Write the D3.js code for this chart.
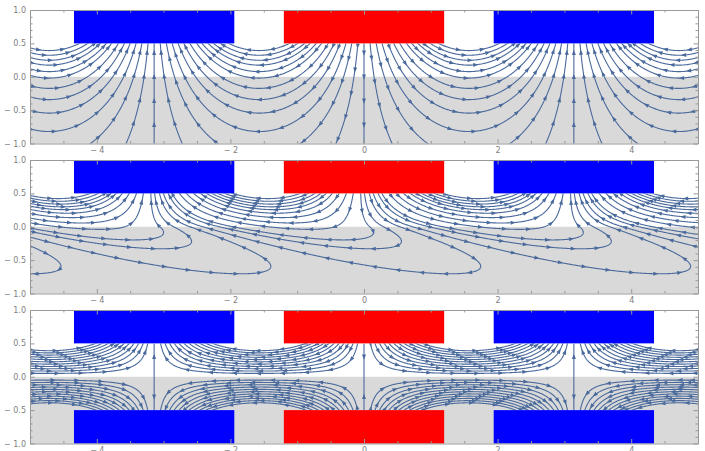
<!DOCTYPE html>
<html>
<head>
<meta charset="utf-8">
<script src="https://cdn.jsdelivr.net/npm/d3@7"></script>
<style>
  body { margin: 0; background: #fff; }
  text { font-family: "DejaVu Sans", sans-serif; }
</style>
</head>
<body>
<svg id="chart" width="705" height="451"></svg>
<script>
// magnet blocks (centres, colours), rows in y
const magnetCenters = [-3.1416, 0, 3.1416];
const magnetColors = ['#0000ff', '#ff0000', '#0000ff'];
const magnetHalfWidth = 1.2;
const topRow = [0.5, 1.0];
const bottomRow = [-1.0, -0.5];

// stream-function levels (one streamline per level)
const levels1 = [-1.48, -1.38, -1.28, -1.19, -1.08, -0.98, -0.84, -0.71, -0.58, -0.44, -0.30, -0.15, 0,
                  0.15, 0.30, 0.44, 0.58, 0.71, 0.84, 0.98, 1.08, 1.19, 1.28, 1.38, 1.48];
const levels2 = [-1.076, -0.998, -0.920, -0.845, -0.770, -0.679, -0.571, -0.449, -0.328, -0.194, -0.125, -0.036,
                  0.036, 0.125, 0.194, 0.328, 0.449, 0.571, 0.679, 0.770, 0.845, 0.920, 0.998, 1.076];
const levels3 = [-0.80, -0.73, -0.66, -0.59, -0.52, -0.45, -0.38, -0.31, -0.24, -0.17, -0.10,
                  0.10, 0.17, 0.24, 0.31, 0.38, 0.45, 0.52, 0.59, 0.66, 0.73, 0.80];
const conductorSpeed = 21;   // panel 2: moving conductor

const xTicks = [-4, -2, 0, 2, 4];
const xMinor = [-5, -4.5, -3.5, -3, -2.5, -1.5, -1, -0.5, 0.5, 1, 1.5, 2.5, 3, 3.5, 4.5, 5];
const yTicks = [-1, -0.5, 0, 0.5, 1];
const yMinor = [-0.9, -0.8, -0.7, -0.6, -0.4, -0.3, -0.2, -0.1, 0.1, 0.2, 0.3, 0.4, 0.6, 0.7, 0.8, 0.9];

const panelTops = [10, 160, 310];
const plotH = 133.5;
const lineColor = '#4a6a9c';

const svg = d3.select('#chart');
const x = d3.scaleLinear().domain([-5, 5]).range([30, 698]);

// --- complex helpers for the conductor field
const cx = (re, im) => ({ re, im });
const cadd = (a, b) => cx(a.re + b.re, a.im + b.im);
const csub = (a, b) => cx(a.re - b.re, a.im - b.im);
const cmul = (a, b) => cx(a.re * b.re - a.im * b.im, a.re * b.im + a.im * b.re);
const cdiv = (a, b) => { const d = b.re * b.re + b.im * b.im; return cx((a.re * b.re + a.im * b.im) / d, (a.im * b.re - a.re * b.im) / d); };
const csqrt = (a) => { const m = Math.sqrt(Math.hypot(a.re, a.im)), t = Math.atan2(a.im, a.re) / 2; return cx(m * Math.cos(t), m * Math.sin(t)); };

const gam = csqrt(cx(1, conductorSpeed));
const refl = cdiv(csub(cx(1, 0), gam), cadd(cx(1, 0), gam));
const trans = cdiv(cx(2, 0), cadd(cx(1, 0), gam));

const psiFns = [
  (px, py) => Math.exp(py) * Math.sin(px),
  (px, py) => {
    let fr, fi;
    if (py >= 0) {
      fr = Math.exp(py) + refl.re * Math.exp(-py);
      fi = refl.im * Math.exp(-py);
    } else {
      const e = Math.exp(gam.re * py);
      const c = cmul(trans, cx(e * Math.cos(gam.im * py), e * Math.sin(gam.im * py)));
      fr = c.re; fi = c.im;
    }
    return fr * Math.sin(px) + fi * Math.cos(px);
  },
  (px, py) => 2 * Math.sin(px) * Math.sinh(py)
];
const levelSets = [levels1, levels2, levels3];

const gx0 = -5.4, gx1 = 5.4, gy0 = -1.3, gy1 = 0.9, step = 0.01;
const nx = Math.round((gx1 - gx0) / step) + 1;
const ny = Math.round((gy1 - gy0) / step) + 1;

function drawPanel(i) {
  const top = panelTops[i];
  const y = d3.scaleLinear().domain([-1, 1]).range([top + plotH, top]);
  const psi = psiFns[i];
  const g = svg.append('g');
  const yClipTop = 0.5, yClipBot = i === 2 ? -0.5 : -1;

  g.append('clipPath').attr('id', 'clip' + i)
    .append('rect')
    .attr('x', x(-5)).attr('y', y(yClipTop))
    .attr('width', x(5) - x(-5)).attr('height', y(yClipBot) - y(yClipTop));

  // conductor background
  g.append('rect')
    .attr('x', x(-5)).attr('y', y(0))
    .attr('width', x(5) - x(-5)).attr('height', y(-1) - y(0))
    .attr('fill', '#d9d9d9');

  const values = new Float64Array(nx * ny);
  for (let j = 0; j < ny; j++) {
    const yv = gy0 + j * step;
    for (let k = 0; k < nx; k++) values[j * nx + k] = psi(gx0 + k * step, yv);
  }
  const contours = d3.contours().size([nx, ny]).thresholds(levelSets[i])(values);
  const toData = (p) => [gx0 + (p[0] - 0.5) * step, gy0 + (p[1] - 0.5) * step];
  const proj = d3.geoTransform({
    point(px, py) { const d = toData([px, py]); this.stream.point(x(d[0]), y(d[1])); }
  });
  const path = d3.geoPath(proj);

  const lines = g.append('g').attr('clip-path', `url(#clip${i})`);
  lines.selectAll('path.c')
    .data(contours)
    .join('path')
    .attr('class', 'c')
    .attr('d', path)
    .attr('fill', 'none')
    .attr('stroke', lineColor)
    .attr('stroke-width', 1.1)
    .attr('stroke-linejoin', 'round');

  if (i === 2) {
    lines.selectAll('line.sep')
      .data(magnetCenters)
      .join('line')
      .attr('class', 'sep')
      .attr('x1', (d) => x(d)).attr('x2', (d) => x(d))
      .attr('y1', y(0.5)).attr('y2', y(-0.5))
      .attr('stroke', lineColor).attr('stroke-width', 1.1);
  }

  // arrowheads along each streamline
  const inside = (d) => d[0] > -5 && d[0] < 5 && d[1] < yClipTop && d[1] > yClipBot;
  const arrows = [];
  const spacing = 24;
  const addArrow = (d) => {
    const h = 1e-4;
    const bx = (psi(d[0], d[1] + h) - psi(d[0], d[1] - h)) / (2 * h);
    const by = -(psi(d[0] + h, d[1]) - psi(d[0] - h, d[1])) / (2 * h);
    const m = Math.hypot(bx, by);
    if (!m) return;
    arrows.push({ px: x(d[0]), py: y(d[1]), ux: bx / m, uy: -by / m });
  };
  for (const c of contours) {
    for (const poly of c.coordinates) {
      for (const ring of poly) {
        let acc = spacing / 2;
        for (let k = 1; k < ring.length; k++) {
          const a = toData(ring[k - 1]), b = toData(ring[k]);
          const ax = x(a[0]), ay = y(a[1]), bxp = x(b[0]), byp = y(b[1]);
          const len = Math.hypot(bxp - ax, byp - ay);
          let s = 0;
          while (acc - s <= len) {
            const f = len ? (acc - s) / len : 0;
            const d = [a[0] + f * (b[0] - a[0]), a[1] + f * (b[1] - a[1])];
            if (inside(d)) addArrow(d);
            acc += spacing;
          }
          acc -= len;
        }
      }
    }
  }
  if (i === 2) {
    for (const c of magnetCenters) {
      for (const yv of [0.3, -0.3]) addArrow([c, yv]);
    }
  }
  lines.selectAll('path.a')
    .data(arrows)
    .join('path')
    .attr('class', 'a')
    .attr('d', (a) => {
      const nxp = -a.uy, nyp = a.ux;
      const tip = [a.px + a.ux * 3, a.py + a.uy * 3];
      const b1 = [a.px - a.ux * 2.2 + nxp * 2, a.py - a.uy * 2.2 + nyp * 2];
      const b2 = [a.px - a.ux * 2.2 - nxp * 2, a.py - a.uy * 2.2 - nyp * 2];
      return `M${tip}L${b1}L${b2}Z`;
    })
    .attr('fill', lineColor);

  // magnets
  const rows = i === 2 ? [topRow, bottomRow] : [topRow];
  for (const row of rows) {
    g.selectAll(null)
      .data(magnetCenters)
      .join('rect')
      .attr('x', (d) => x(d - magnetHalfWidth))
      .attr('width', (d) => x(d + magnetHalfWidth) - x(d - magnetHalfWidth))
      .attr('y', y(row[1]))
      .attr('height', y(row[0]) - y(row[1]))
      .attr('fill', (d, k) => magnetColors[k]);
  }

  // frame and ticks
  const fmt = (d, dec) => (d < 0 ? '\u2212 ' : '') + Math.abs(d).toFixed(dec);
  const axes = [
    [d3.axisBottom(x), `translate(0,${y(-1)})`, xTicks, xMinor, (d) => fmt(d, 0)],
    [d3.axisTop(x), `translate(0,${y(1)})`, xTicks, xMinor, () => ''],
    [d3.axisLeft(y), `translate(${x(-5)},0)`, yTicks, yMinor, (d) => fmt(d, 1)],
    [d3.axisRight(y), `translate(${x(5)},0)`, yTicks, yMinor, () => '']
  ];
  for (const [ax, tr, major, minor, f] of axes) {
    const gm = g.append('g').attr('transform', tr)
      .call(ax.tickValues(minor).tickSize(-2.5).tickSizeOuter(0).tickFormat(''));
    gm.select('.domain').remove();
    gm.selectAll('line').attr('stroke', '#999');
    const ga = g.append('g').attr('transform', tr)
      .call(ax.tickValues(major).tickSize(-4.5).tickSizeOuter(0).tickPadding(4).tickFormat(f));
    ga.select('.domain').attr('stroke', '#999');
    ga.selectAll('line').attr('stroke', '#999');
    ga.selectAll('text').attr('fill', '#808080').attr('font-size', 8);
  }
}

[0, 1, 2].forEach(drawPanel);
</script>
</body>
</html>
